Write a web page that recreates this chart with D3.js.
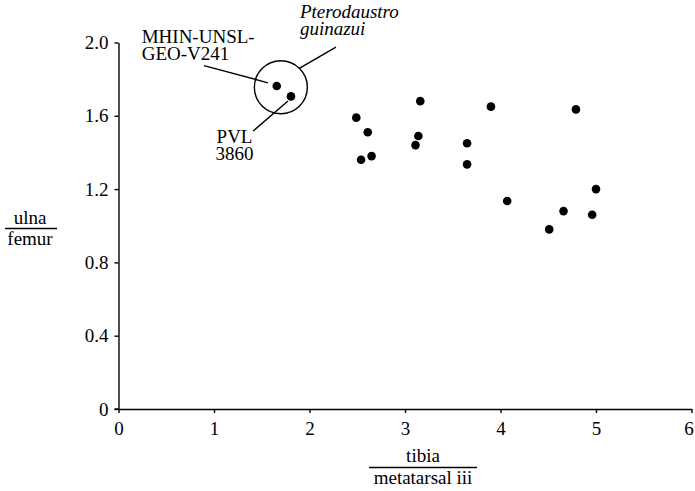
<!DOCTYPE html>
<html>
<head>
<meta charset="utf-8">
<script src="https://cdn.jsdelivr.net/npm/d3@7"></script>
<style>
  html, body { margin: 0; padding: 0; background: #fff; }
  svg { display: block; font-family: "Liberation Serif", "Times New Roman", serif; }
  svg text { font-family: "Liberation Serif", "Times New Roman", serif; }
</style>
</head>
<body>
<svg id="chart" width="695" height="491"></svg>
<script>
// ---- data ----
const xTicks = [0, 1, 2, 3, 4, 5, 6];
const yTicks = [0, 0.4, 0.8, 1.2, 1.6, 2.0];
const yTickLabels = ["0", "0.4", "0.8", "1.2", "1.6", "2.0"];

// tibia / metatarsal iii
const tibiaMt = [2.49, 2.61, 2.54, 2.65, 3.16, 3.14, 3.11, 3.65, 3.65, 3.90, 4.79, 4.07, 5.00, 4.66, 4.96, 4.51];
// ulna / femur
const ulnaFemur = [1.59, 1.51, 1.36, 1.38, 1.68, 1.49, 1.44, 1.45, 1.335, 1.65, 1.635, 1.135, 1.20, 1.08, 1.06, 0.98];

// highlighted specimens
const specimenNames = ["MHIN-UNSL-GEO-V241", "PVL 3860"];
const specimenX = [1.657, 1.806];
const specimenY = [1.763, 1.706];

// encircled group (Pterodaustro guinazui)
const groupCenter = [1.70, 1.756];

// annotation leader lines [x1, y1, x2, y2] in data units
const leaderMHIN = [0.895, 1.874, 1.565, 1.78];
const leaderPtero = [1.893, 1.859, 2.277, 1.975];
const leaderPVL = [1.775, 1.681, 1.41, 1.517];

// ---- layout ----
const svg = d3.select("#chart");
const x = d3.scaleLinear().domain([0, 6]).range([118.5, 691.5]);
const y = d3.scaleLinear().domain([0, 2]).range([409, 42.5]);
const FS = 19;
const SERIF = '"Liberation Serif", "Times New Roman", serif';

// axes
const xAxis = d3.axisBottom(x).tickValues(xTicks).tickSize(4).tickSizeOuter(0).tickPadding(9).tickFormat(d3.format("d"));
const yAxis = d3.axisLeft(y).tickValues(yTicks).tickSize(4).tickSizeOuter(0).tickPadding(6)
  .tickFormat((d, i) => yTickLabels[i]);

const gx = svg.append("g").attr("transform", `translate(0,${y(0)})`).call(xAxis);
const gy = svg.append("g").attr("transform", `translate(${x(0)},0)`).call(yAxis);
[gx, gy].forEach(g => {
  g.attr("font-family", SERIF).attr("font-size", FS);
  g.selectAll("path.domain").attr("stroke", "#000").attr("stroke-width", 1.4);
  g.selectAll(".tick line").attr("stroke", "#000").attr("stroke-width", 1.4);
  g.selectAll(".tick text").attr("fill", "#000");
});
// keep the last x tick label inside the frame, as in the reference
gx.selectAll(".tick text").filter(d => d === 6).attr("dx", -3);
// extend x-axis slightly left past y axis, like the reference
svg.append("line").attr("x1", x(0) - 4).attr("x2", x(0)).attr("y1", y(0)).attr("y2", y(0))
  .attr("stroke", "#000").attr("stroke-width", 1.4);

// axis titles (fractions)
const xt = svg.append("g").attr("transform", "translate(423,0)").attr("font-size", FS);
xt.append("text").attr("x", 0).attr("y", 461.5).attr("text-anchor", "middle").text("tibia");
xt.append("line").attr("x1", -54).attr("x2", 54).attr("y1", 467.5).attr("y2", 467.5).attr("stroke", "#000").attr("stroke-width", 1.6);
xt.append("text").attr("x", 0).attr("y", 484).attr("text-anchor", "middle").text("metatarsal iii");

const yt = svg.append("g").attr("transform", "translate(30,0)").attr("font-size", FS);
yt.append("text").attr("x", 0).attr("y", 224).attr("text-anchor", "middle").text("ulna");
yt.append("line").attr("x1", -25).attr("x2", 27).attr("y1", 228.5).attr("y2", 228.5).attr("stroke", "#000").attr("stroke-width", 1.6);
yt.append("text").attr("x", 0).attr("y", 245).attr("text-anchor", "middle").text("femur");

// data points
svg.append("g").selectAll("circle").data(tibiaMt.map((v, i) => [v, ulnaFemur[i]]))
  .join("circle").attr("cx", d => x(d[0])).attr("cy", d => y(d[1])).attr("r", 4.3).attr("fill", "#000");

svg.append("g").selectAll("circle").data(specimenX.map((v, i) => [v, specimenY[i]]))
  .join("circle").attr("cx", d => x(d[0])).attr("cy", d => y(d[1])).attr("r", 4.3).attr("fill", "#000");

// encircling ring
svg.append("circle").attr("cx", x(groupCenter[0])).attr("cy", y(groupCenter[1])).attr("r", 26.5)
  .attr("fill", "none").attr("stroke", "#000").attr("stroke-width", 1.4);

// leader lines
[leaderMHIN, leaderPtero, leaderPVL].forEach(l => {
  svg.append("line").attr("x1", x(l[0])).attr("y1", y(l[1])).attr("x2", x(l[2])).attr("y2", y(l[3]))
    .attr("stroke", "#000").attr("stroke-width", 1.4);
});

// annotation labels
const ann = svg.append("g").attr("font-size", FS).attr("fill", "#000");
ann.append("text").attr("x", x(0.243)).attr("y", y(1.996)).text("MHIN-UNSL-");
ann.append("text").attr("x", x(0.243)).attr("y", y(1.902)).text("GEO-V241");
ann.append("text").attr("x", x(1.9)).attr("y", y(2.132)).style("font-style", "italic").text("Pterodaustro");
ann.append("text").attr("x", x(1.9)).attr("y", y(2.043)).style("font-style", "italic").text("guinazui");
ann.append("text").attr("x", x(1.215)).attr("y", y(1.453)).attr("text-anchor", "middle").text("PVL");
ann.append("text").attr("x", x(1.215)).attr("y", y(1.359)).attr("text-anchor", "middle").text("3860");
</script>
</body>
</html>
